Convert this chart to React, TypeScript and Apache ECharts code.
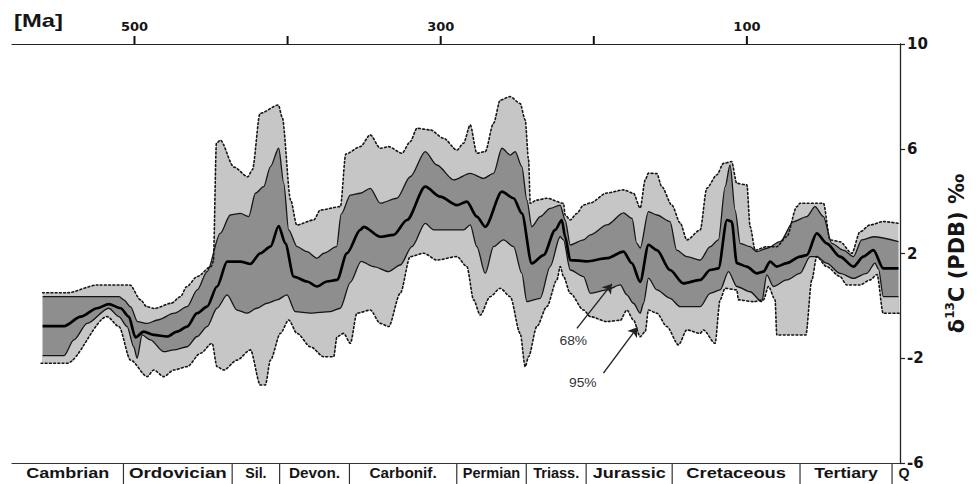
import React, { useEffect, useRef } from 'react';
import * as echarts from 'echarts';

// Age (Ma) / delta13C (permil) pairs
const upper95: number[][] = [
  [560, 0.5], [544, 0.5], [524, 0.8], [503, 0.8], [496, 0.23], [492, -0.03], [487, -0.1], [476, 0.1], [470, 0.35],
  [466, 0.73], [459, 1.12], [450, 1.5], [448.5, 1.7], [446.5, 6.2], [444, 6.33], [435, 5.3], [426, 4.93], [423, 5.2],
  [418, 7.35], [406, 7.67], [403.5, 7.2], [398, 4.04], [394, 3.09], [383, 3.28], [378.6, 3.66], [365.5, 3.79],
  [362, 5.8], [352.5, 6.08], [346, 6.53], [339.5, 6.02], [334, 6.08], [325.3, 5.83], [319.9, 6.27], [315.5, 6.78],
  [306.8, 6.72], [298.1, 6.4], [289.4, 5.95], [285.1, 6.21], [280.7, 6.91], [276.4, 5.83], [270.9, 5.89], [265.5, 6.97],
  [261.1, 7.86], [254.6, 7.99], [248.1, 7.73], [244.8, 7.1], [242.6, 5.57], [241.5, 3.92], [237.2, 4.04], [230.7, 4.11],
  [219.8, 3.92], [218.7, 3.47], [215.4, 3.28], [211.1, 3.53], [206.7, 3.85], [202.3, 3.93], [191.5, 4.31], [180.6, 4.43],
  [174.1, 4.3], [169.7, 3.74], [166.4, 4.81], [164.3, 5.07], [158.8, 5.05], [155.6, 4.55], [149, 3.85], [143.6, 3.17],
  [139.2, 2.52], [130.5, 2.9], [126.2, 4.49], [119.7, 5.0], [115.3, 5.44], [110, 5.51], [106.6, 4.68], [100, 4.62],
  [97.9, 3.03], [94.6, 2.13], [87, 2.26], [80.5, 2.26], [74, 2.64], [67.4, 3.79], [65.3, 3.92], [50, 3.92], [45.7, 2.52],
  [39.2, 2.45], [31.5, 2.01], [26.1, 2.83], [19.6, 3.09], [10.9, 3.22], [1, 3.15],
];

const upper68: number[][] = [
  [560, 0.35], [510, 0.35], [507, 0.23], [502.6, -0.03], [498, -0.6], [491.7, -0.67], [485, -0.54], [474, -0.28],
  [465.6, -0.03], [459, 0.61], [452.6, 1.31], [444, 2.77], [437.4, 3.47], [430.9, 3.53], [425.4, 3.41], [421, 4.3],
  [415.6, 4.55], [411.2, 5.32], [405.8, 6.02], [402.5, 4.68], [399.3, 2.9], [393.8, 2.26], [387.3, 2.07], [380.8, 1.82],
  [376.4, 2.01], [368, 2.26], [365, 3.5], [359, 4.23], [352.5, 4.3], [346, 4.49], [339.5, 3.92], [328.6, 4.11],
  [319.9, 4.93], [310.1, 5.89], [302.5, 5.38], [291.6, 4.81], [280.7, 5.06], [272, 4.87], [265.5, 5.06], [260, 6.02],
  [254.6, 5.76], [251.3, 5.89], [247, 5.32], [243.7, 4.04], [240.5, 3.02], [235, 3.41], [228.5, 3.72], [222, 3.85],
  [218.7, 3.28], [215.4, 2.33], [206.7, 2.52], [202.3, 2.71], [191.5, 3.09], [180.6, 3.55], [175, 3.34], [172, 2.4],
  [169.7, 2.21], [164.3, 3.6], [158.8, 3.47], [150.2, 3.22], [145.9, 2.13], [139.2, 1.88], [130.5, 1.75], [124, 2.26],
  [118.6, 2.52], [114.2, 4.55], [111, 5.38], [107.7, 3.66], [104.4, 2.39], [97.9, 2.26], [93.5, 2.07], [87, 2.2],
  [78.3, 2.45], [69.6, 3.22], [60.9, 3.41], [55.5, 3.79], [50, 3.41], [44.6, 2.39], [37, 2.13], [30.4, 1.88], [25, 2.52],
  [17.4, 2.64], [1, 2.45],
];

const meanCurve: number[][] = [
  [560, -0.77], [546, -0.77], [535, -0.41], [524.4, -0.09], [516.8, 0.07], [509, -0.09], [503.7, -0.41], [499.4, -1.2],
  [494, -0.98], [487.4, -1.11], [478.7, -1.17], [472.2, -0.98], [465.6, -0.79], [459.1, -0.28], [452.6, -0.03],
  [446.1, 0.74], [439.5, 1.69], [430.8, 1.69], [424.3, 1.6], [417.8, 2.01], [411.2, 2.26], [405.8, 3.05], [401.5, 2.39],
  [396, 1.12], [387.3, 0.93], [380.8, 0.74], [374.3, 0.93], [367.7, 0.99], [361.2, 2.01], [352.5, 2.9], [350.3, 3.02],
  [339.5, 2.64], [330.8, 2.71], [322, 3.28], [310.1, 4.55], [300.3, 4.17], [289.4, 3.85], [282.9, 3.98], [276.4, 3.41],
  [270.9, 3.02], [260, 4.36], [252.4, 4.11], [247, 3.53], [240.5, 1.62], [232.8, 1.94], [225.2, 2.9], [220.9, 3.28],
  [218.7, 2.64], [215.4, 1.75], [204.5, 1.7], [191.5, 1.82], [180.6, 2.07], [175.2, 1.63], [169.7, 0.92], [164.3, 2.33],
  [158.8, 2.13], [150.2, 1.37], [141.5, 0.86], [130.5, 0.99], [124, 1.37], [118.6, 1.43], [113, 3.28], [109.9, 3.22],
  [106.6, 1.63], [100.1, 1.5], [93.5, 1.24], [89.2, 1.31], [84.8, 1.69], [80.5, 1.5], [74, 1.63], [65.3, 1.88],
  [60.9, 1.94], [54.4, 2.77], [47.9, 2.39], [39.2, 1.88], [30.4, 1.5], [23.9, 1.88], [17.4, 2.13], [10.9, 1.43], [1, 1.43],
];

const lower68: number[][] = [
  [560, -1.9], [546, -1.9], [539.6, -1.3], [530.9, -0.67], [516.8, -0.09], [510.2, -0.41], [504.8, -0.79], [500.5, -1.56],
  [498.3, -2.0], [495, -1.11], [489.6, -1.3], [480.9, -1.75], [474.3, -1.68], [465.6, -1.56], [459.1, -1.17],
  [452.6, -0.79], [446.1, -0.09], [439.5, 0.42], [433, -0.16], [426.5, -0.28], [420, -0.09], [413.4, 0.1], [406.9, 0.23],
  [400.4, 0.42], [395, -0.22], [385.1, -0.28], [372.1, -0.22], [365.6, -0.09], [359, 0.9], [352, 1.7], [343.8, 1.5],
  [334, 1.31], [326.4, 1.56], [318.8, 2.26], [310.1, 3.15], [304.6, 2.9], [285.1, 2.9], [280.7, 3.09], [276.4, 2.26],
  [270.9, 1.24], [265.5, 2.26], [259, 2.52], [252.4, 2.26], [247, 1.24], [243.7, 0.16], [235, 0.29], [228.5, 1.5],
  [222, 2.64], [219.8, 2.52], [215.4, 1.37], [206.7, 1.12], [202.3, 0.48], [191.5, 0.61], [182.7, 0.8], [178.4, 0.42],
  [174.1, 0.1], [169.7, -0.28], [167.5, 0.1], [164.3, 1.06], [158.8, 0.61], [150.2, 0.29], [143.6, -0.03], [130.5, -0.03],
  [124, 0.48], [117.5, 0.61], [112, 1.31], [106.6, 0.74], [97.9, 0.54], [90.3, 0.16], [87, 1.18], [82.7, 0.74], [74, 0.99],
  [65.3, 1.24], [58.7, 1.88], [54.4, 1.88], [47.9, 1.63], [39.2, 1.24], [30.4, 1.05], [21.7, 1.24], [16.3, 1.63],
  [14, 1.4], [10.9, 0.35], [1, 0.35],
];

const lower95: number[][] = [
  [561, -2.19], [544, -2.19], [517.9, -0.41], [510.2, -0.79], [502.6, -2.07], [491.7, -2.7], [487.4, -2.45],
  [480.9, -2.7], [474.3, -2.45], [465.6, -2.32], [456.9, -1.81], [449.3, -1.43], [446.1, -2.32], [441.7, -2.45],
  [433, -2.07], [424.3, -1.68], [417.8, -3.02], [414.5, -3.02], [411.2, -2.07], [404.7, -1.05], [399.3, -0.54],
  [393.8, -1.05], [385.1, -1.56], [376.4, -1.94], [369.9, -1.94], [367.7, -1.18], [363.4, -1.05], [359, -1.43],
  [354.7, -0.28], [346, -0.16], [339.5, -0.67], [334, -0.79], [326.4, 0.48], [319.9, 1.88], [311.2, 2.01], [302.5, 1.75],
  [289.4, 1.88], [282.9, 1.5], [278.5, 0.23], [274.2, -0.35], [267.7, 0.35], [261.1, 0.67], [254.6, 0.35], [248.1, -1.05],
  [244.8, -2.32], [242.6, -1.94], [237.2, -0.79], [230.7, -0.03], [224.1, 0.99], [221.9, 1.5], [219.8, 1.12],
  [215.4, 0.48], [206.7, -0.16], [202.3, -0.41], [191.5, -0.6], [182.7, -0.55], [178.4, -0.16], [174.1, -0.54],
  [169.7, -1.18], [166.4, -0.98], [164.3, -0.16], [158.8, -0.28], [152.3, -0.79], [144.7, -1.49], [139.2, -0.92],
  [130.5, -1.05], [128.4, -0.92], [120.8, -1.43], [117.5, 0.23], [114.2, 0.67], [106.6, 0.61], [105.5, 0.23],
  [95.7, 0.16], [89.2, 0.23], [85.9, 0.74], [81.6, 0.23], [80.5, -1.11], [61.5, -1.11], [57.6, 0.99], [54.4, 1.88],
  [47.9, 1.5], [39.2, 1.12], [34.8, 0.8], [26.1, 0.8], [19.6, 0.99], [15, 1.2], [11, -0.28], [0.5, -0.28],
];

// Geological periods (boundaries in Ma as drawn in the figure)
const periodNames = ['Cambrian', 'Ordovician', 'Sil.', 'Devon.', 'Carbonif.', 'Permian', 'Triass.', 'Jurassic', 'Cretaceous', 'Tertiary', 'Q'];
const periodStarts = [580, 507.2, 436.2, 405.2, 359.6, 289.5, 244.1, 205, 148.8, 65.3, 5.2];
const periodEnds = [507.2, 436.2, 405.2, 359.6, 289.5, 244.1, 205, 148.8, 65.3, 5.2, -10.4];
// horizontal stretch of each period label (style only)
const periodLabelStretch = [1.2, 1.25, 0.95, 1.02, 1.02, 0.97, 0.97, 1.2, 1.22, 1.18, 0.95];

// Axis ticks and labels
const topTickAges = [500, 400, 300, 200, 100];
const topLabels = ['500', '', '300', '', '100'];
const yTicks = [-6, -2, 2, 6, 10];

// Annotations (confidence-band labels and arrows)
const annotationTexts = ['68%', '95%'];
const annotationAt = [[213.4, -1.34], [207.2, -2.92]];
const arrowFrom = [[211, -0.86], [193.7, -2.57]];
const arrowTo = [[188.2, 0.84], [171.5, -0.82]];

const LIGHT = '#c6c6c6';
const DARK = '#8e8e8e';
const INK = '#151515';

export default function App() {
  const ref = useRef<HTMLDivElement>(null);

  useEffect(() => {
    document.body.style.margin = '0';
    if (!ref.current) return;
    const chart = echarts.init(ref.current, undefined, { renderer: 'svg' });

    const bandLine = (name: string, data: number[][], fill: string, dotted: boolean, width: number) => ({
      name,
      type: 'line',
      data,
      xAxisIndex: 0,
      yAxisIndex: 0,
      z: 2,
      showSymbol: false,
      symbol: 'none',
      smooth: 0.28,
      smoothMonotone: 'x',
      silent: true,
      lineStyle: {
        color: INK,
        width,
        type: dotted ? [1.8, 2.4] : 'solid',
        cap: dotted ? 'round' : 'butt',
      },
      areaStyle: { color: fill, opacity: 1, origin: 'start' },
    });

    const option: any = {
      animation: false,
      backgroundColor: '#ffffff',
      grid: { left: 12, right: 78, top: 44, bottom: 21, containLabel: false },
      xAxis: [
        {
          type: 'value',
          position: 'top',
          min: 0,
          max: 580,
          interval: 100,
          inverse: true,
          z: 10,
          axisLine: { show: true, onZero: false, lineStyle: { color: '#222', width: 1.2 } },
          axisTick: { show: false },
          axisLabel: { show: false },
          splitLine: { show: false },
        },
        {
          type: 'value',
          position: 'bottom',
          min: 0,
          max: 580,
          inverse: true,
          z: 10,
          axisLine: { show: true, onZero: false, lineStyle: { color: '#333', width: 1.2 } },
          axisTick: { show: false },
          axisLabel: { show: false },
          splitLine: { show: false },
        },
      ],
      yAxis: {
        type: 'value',
        position: 'right',
        min: -6,
        max: 10,
        z: 10,
        axisLine: { show: true, onZero: false, lineStyle: { color: '#222', width: 1.3 } },
        axisTick: { show: true, length: 5, inside: false, customValues: yTicks, lineStyle: { color: '#222', width: 1.2 } },
        axisLabel: {
          show: true,
          customValues: yTicks,
          margin: 7,
          color: INK,
          fontFamily: '"DejaVu Sans", sans-serif',
          fontWeight: 'bold',
          fontSize: 15,
        },
        splitLine: { show: false },
        name: '{a|δ}{b|13}{a|C (PDB) ‰}',
        nameLocation: 'middle',
        nameRotate: 90,
        nameGap: 44,
        nameTextStyle: {
          rich: {
            a: { fontFamily: '"DejaVu Sans", sans-serif', fontWeight: 'bold', fontSize: 21, color: INK, lineHeight: 25 },
            b: { fontFamily: '"DejaVu Sans", sans-serif', fontWeight: 'bold', fontSize: 12, color: INK, lineHeight: 12, verticalAlign: 'top' },
          },
        },
      },
      graphic: [
        {
          type: 'text',
          left: 14,
          top: 11,
          scaleX: 1.25,
          style: { text: '[Ma]', font: 'bold 19px "Liberation Sans", Arial, sans-serif', fill: INK },
        },
      ],
      series: [
        bandLine('upper95', upper95, LIGHT, true, 1.6),
        bandLine('upper68', upper68, DARK, false, 1.3),
        bandLine('lower68', lower68, LIGHT, false, 1.3),
        bandLine('lower95', lower95, '#ffffff', true, 1.6),
        {
          name: 'mean',
          type: 'line',
          data: meanCurve,
          z: 3,
          showSymbol: false,
          symbol: 'none',
          smooth: 0.28,
          smoothMonotone: 'x',
          silent: true,
          lineStyle: { color: '#000', width: 2.7 },
        },
        {
          name: 'annotations',
          type: 'custom',
          z: 8,
          clip: false,
          silent: true,
          data: annotationAt,
          encode: { x: 0, y: 1 },
          renderItem: (params: any, api: any) => {
            const i = params.dataIndex;
            const p = api.coord(annotationAt[i]);
            return {
              type: 'group',
              children: [
                {
                  type: 'text',
                  x: p[0],
                  y: p[1],
                  scaleX: 1.15,
                  z2: 10,
                  style: {
                    text: annotationTexts[i],
                    x: 0,
                    y: 0,
                    align: 'center',
                    verticalAlign: 'middle',
                    font: '12px "Liberation Sans", Arial, sans-serif',
                    fill: '#333',
                  },
                },
              ],
            };
          },
          markLine: {
            silent: true,
            symbol: ['none', 'arrow'],
            symbolSize: 9,
            label: { show: false },
            lineStyle: { color: '#222', width: 1.4, type: 'solid' },
            data: arrowFrom.map((f, i) => [{ coord: f }, { coord: arrowTo[i] }]),
          },
        },
        {
          name: 'topTicks',
          type: 'custom',
          z: 9,
          clip: false,
          silent: true,
          data: topTickAges.map((a) => [a, 10]),
          encode: { x: 0, y: 1 },
          renderItem: (params: any, api: any) => {
            const p = api.coord([topTickAges[params.dataIndex], 10]);
            return {
              type: 'rect',
              z2: 20,
              shape: { x: p[0] - 1, y: p[1] - 8, width: 2, height: 8 },
              style: { fill: '#111' },
            };
          },
        },
        {
          name: 'topLabels',
          type: 'custom',
          z: 8,
          clip: false,
          silent: true,
          data: topTickAges.map((a) => [a, 10]),
          encode: { x: 0, y: 1 },
          renderItem: (params: any, api: any) => {
            const i = params.dataIndex;
            if (!topLabels[i]) return null;
            const p = api.coord([topTickAges[i], 10]);
            return {
              type: 'text',
              x: p[0],
              y: p[1] - 18,
              style: {
                text: topLabels[i],
                x: 0,
                y: 0,
                align: 'center',
                verticalAlign: 'middle',
                font: 'bold 13px "DejaVu Sans", sans-serif',
                fill: INK,
              },
            };
          },
        },
        {
          name: 'periods',
          type: 'custom',
          z: 8,
          clip: false,
          silent: true,
          data: periodStarts.map((a) => [a, -6]),
          encode: { x: 0, y: 1 },
          renderItem: (params: any, api: any) => {
            const i = params.dataIndex;
            const s = api.coord([periodStarts[i], -6]);
            const e = api.coord([periodEnds[i], -6]);
            const children: any[] = [];
            if (i > 0) {
              children.push({
                type: 'line',
                shape: { x1: s[0], y1: s[1], x2: s[0], y2: s[1] + 24 },
                style: { stroke: '#333', lineWidth: 1.2 },
              });
            }
            children.push({
              type: 'text',
              x: (s[0] + e[0]) / 2,
              y: s[1] + 10,
              scaleX: periodLabelStretch[i],
              style: {
                text: periodNames[i],
                x: 0,
                y: 0,
                align: 'center',
                verticalAlign: 'middle',
                font: 'bold 15px "Liberation Sans", Arial, sans-serif',
                fill: INK,
              },
            });
            return { type: 'group', children };
          },
        },
      ],
    };

    chart.setOption(option);
    return () => chart.dispose();
  }, []);

  return <div ref={ref} style={{ width: 978, height: 484 }} />;
}
